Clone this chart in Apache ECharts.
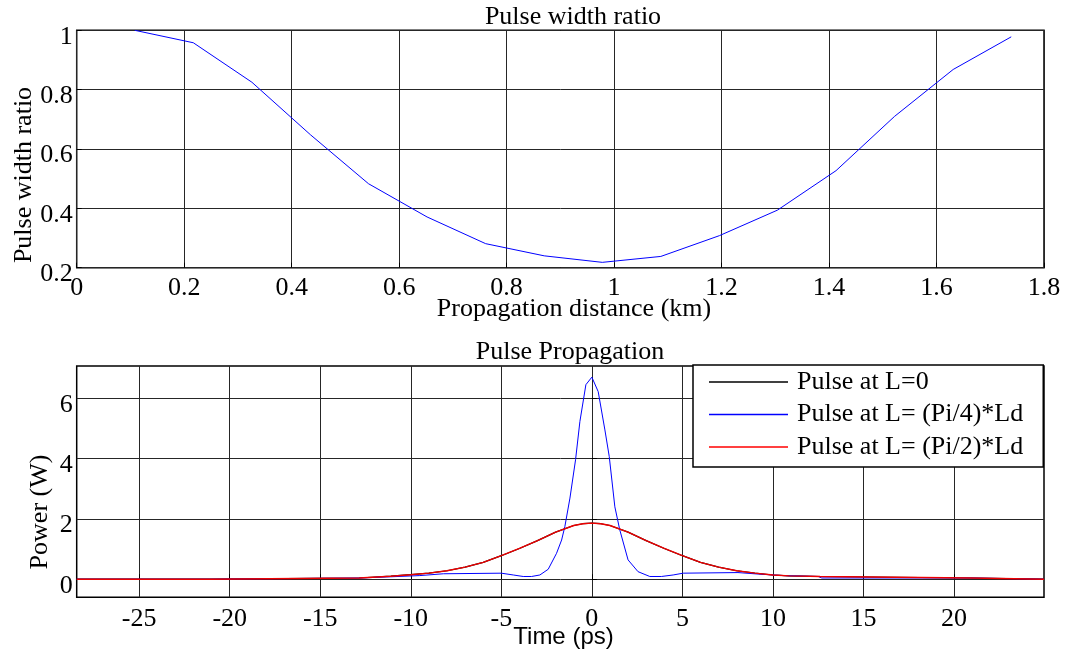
<!DOCTYPE html>
<html><head><meta charset="utf-8">
<script src="https://cdn.jsdelivr.net/npm/echarts@6/dist/echarts.min.js"></script>
<style>html,body{margin:0;padding:0;background:#fff}#c{width:1070px;height:655px}</style>
</head><body><div id="c"></div>
<script>
// ---- top chart data ----
const distKm = [0.108, 0.217, 0.326, 0.435, 0.543, 0.652, 0.761, 0.870, 0.978, 1.087, 1.196, 1.304, 1.413, 1.522, 1.631, 1.739];
const widthRatio = [1.0, 0.958, 0.825, 0.648, 0.483, 0.371, 0.281, 0.240, 0.218, 0.238, 0.308, 0.394, 0.527, 0.710, 0.868, 0.978];
const distTicks = [0, 0.2, 0.4, 0.6, 0.8, 1, 1.2, 1.4, 1.6, 1.8];
const ratioTicks = [0.2, 0.4, 0.6, 0.8, 1];

// ---- bottom chart data ----
const timeTicks = [-25, -20, -15, -10, -5, 0, 5, 10, 15, 20];
const powerTicks = [0, 2, 4, 6];
const tBroad = [-28.45, -21.1, -21.0, -12.85, -12.75, -11.1, -11.0, -10, -9, -8, -7, -6, -5, -4, -3, -2, -1, -0.5, 0, 0.5, 1, 2, 3, 4, 5, 6, 7, 8, 9, 10, 10.9, 12.6, 12.7, 20.9, 21.0, 24.97];
const pulseL0 = [0, 0, 0.04, 0.04, 0.09, 0.10, 0.14, 0.15, 0.20, 0.28, 0.40, 0.56, 0.78, 1.02, 1.28, 1.56, 1.78, 1.84, 1.86, 1.84, 1.78, 1.56, 1.28, 1.02, 0.78, 0.56, 0.40, 0.28, 0.20, 0.14, 0.11, 0.09, 0.04, 0.04, 0, 0];
const pulsePi2 = [0, 0, 0.04, 0.04, 0.09, 0.10, 0.14, 0.15, 0.20, 0.28, 0.40, 0.56, 0.78, 1.02, 1.28, 1.56, 1.78, 1.84, 1.86, 1.84, 1.78, 1.56, 1.28, 1.02, 0.78, 0.56, 0.40, 0.28, 0.20, 0.14, 0.11, 0.09, 0.04, 0.04, 0, 0];
const tNarrow = [-28.45, -21.1, -21.0, -12.8, -12.7, -11.1, -11.0, -9.5, -9.4, -8.2, -8.1, -5.0, -4.34, -3.79, -3.33, -2.87, -2.41, -1.95, -1.67, -1.49, -1.21, -0.9, -0.66, -0.33, 0, 0.35, 0.72, 0.96, 1.27, 1.54, 2.0, 2.55, 3.2, 3.84, 4.49, 5.04, 8.07, 8.1, 9.2, 9.3, 10.6, 10.7, 12.5, 12.7, 20.9, 21.0, 24.97];
const pulsePi4 = [0, 0, 0.04, 0.04, 0.07, 0.08, 0.11, 0.12, 0.175, 0.18, 0.22, 0.20, 0.14, 0.09, 0.09, 0.14, 0.33, 0.86, 1.30, 1.75, 2.69, 3.96, 5.23, 6.45, 6.70, 6.22, 4.95, 4.07, 2.40, 1.64, 0.64, 0.25, 0.09, 0.09, 0.14, 0.20, 0.22, 0.175, 0.17, 0.13, 0.12, 0.10, 0.09, 0.04, 0.04, 0, 0];
const seriesNames = ['Pulse at L=0', 'Pulse at L= (Pi/4)*Ld', 'Pulse at L= (Pi/2)*Ld'];

const pair = (xs, ys) => xs.map((x, i) => [x, ys[i]]);
const serif = 'Liberation Serif';
const gridLine = { show: true, lineStyle: { color: '#262626', width: 1 } };

function valAxis(idx, min, max, ticks, labelExtra) {
  return {
    type: 'value', gridIndex: idx, min: min, max: max,
    axisLine: { show: false },
    axisTick: { show: true, inside: true, length: 5, customValues: ticks, lineStyle: { color: '#000' } },
    axisLabel: Object.assign({ customValues: ticks, fontFamily: serif, fontSize: 26, color: '#000' }, labelExtra),
    splitLine: gridLine
  };
}

const chart = echarts.init(document.getElementById('c'), null, { renderer: 'canvas' });
chart.setOption({
  animation: false,
  backgroundColor: '#fff',
  grid: [
    { left: 76.7, top: 30.3, width: 967.3, height: 237.4, show: true, borderColor: '#000', borderWidth: 1.5, backgroundColor: 'transparent' },
    { left: 76.7, top: 366, width: 967.3, height: 231.3, show: true, borderColor: '#000', borderWidth: 1.5, backgroundColor: 'transparent' }
  ],
  xAxis: [
    valAxis(0, 0, 1.8, distTicks, { margin: 7 }),
    valAxis(1, -28.45, 24.97, timeTicks, { margin: 9 })
  ],
  yAxis: [
    valAxis(0, 0.2, 1, ratioTicks, { margin: 4, verticalAlign: 'top', lineHeight: 13 }),
    valAxis(1, -0.6, 7.07, powerTicks, { margin: 4, verticalAlign: 'top', lineHeight: 13 })
  ],
  legend: {
    orient: 'vertical', left: 693, top: 365,
    padding: [4, 20, 7, 16], itemGap: 6.5, itemWidth: 79, itemHeight: 1.5, icon: 'rect',
    borderColor: '#000', borderWidth: 1.5, backgroundColor: '#fff',
    textStyle: { fontFamily: serif, fontSize: 26, color: '#000', padding: [0, 0, 0, 4] },
    data: seriesNames
  },
  series: [
    { type: 'line', name: 'width', xAxisIndex: 0, yAxisIndex: 0, data: pair(distKm, widthRatio), showSymbol: false, lineStyle: { color: '#0000ff', width: 1 }, itemStyle: { color: '#0000ff' } },
    { type: 'line', name: seriesNames[0], xAxisIndex: 1, yAxisIndex: 1, data: pair(tBroad, pulseL0), showSymbol: false, lineStyle: { color: '#000', width: 1.2 }, itemStyle: { color: '#000' } },
    { type: 'line', name: seriesNames[1], xAxisIndex: 1, yAxisIndex: 1, data: pair(tNarrow, pulsePi4), showSymbol: false, lineStyle: { color: '#0000ff', width: 1 }, itemStyle: { color: '#0000ff' } },
    { type: 'line', name: seriesNames[2], xAxisIndex: 1, yAxisIndex: 1, data: pair(tBroad, pulsePi2), showSymbol: false, lineStyle: { color: '#ee0000', width: 1.4 }, itemStyle: { color: '#ff0000' } }
  ],
  graphic: [
    { type: 'text', x: 573, y: 17, style: { text: 'Pulse width ratio', font: '26px "Liberation Serif"', fill: '#000', align: 'center', verticalAlign: 'middle' } },
    { type: 'text', x: 574, y: 309, style: { text: 'Propagation distance (km)', font: '26px "Liberation Serif"', fill: '#000', align: 'center', verticalAlign: 'middle' } },
    { type: 'text', x: 24, y: 175, rotation: Math.PI / 2, style: { text: 'Pulse width ratio', font: '26px "Liberation Serif"', fill: '#000', align: 'center', verticalAlign: 'middle' } },
    { type: 'text', x: 570, y: 352, style: { text: 'Pulse Propagation', font: '26px "Liberation Serif"', fill: '#000', align: 'center', verticalAlign: 'middle' } },
    { type: 'text', x: 40, y: 512, rotation: Math.PI / 2, style: { text: 'Power (W)', font: '26px "Liberation Serif"', fill: '#000', align: 'center', verticalAlign: 'middle' } },
    { type: 'text', x: 563.5, y: 637, style: { text: 'Time (ps)', font: '24px "Liberation Sans"', fill: '#000', align: 'center', verticalAlign: 'middle' } }
  ]
});
</script></body></html>
